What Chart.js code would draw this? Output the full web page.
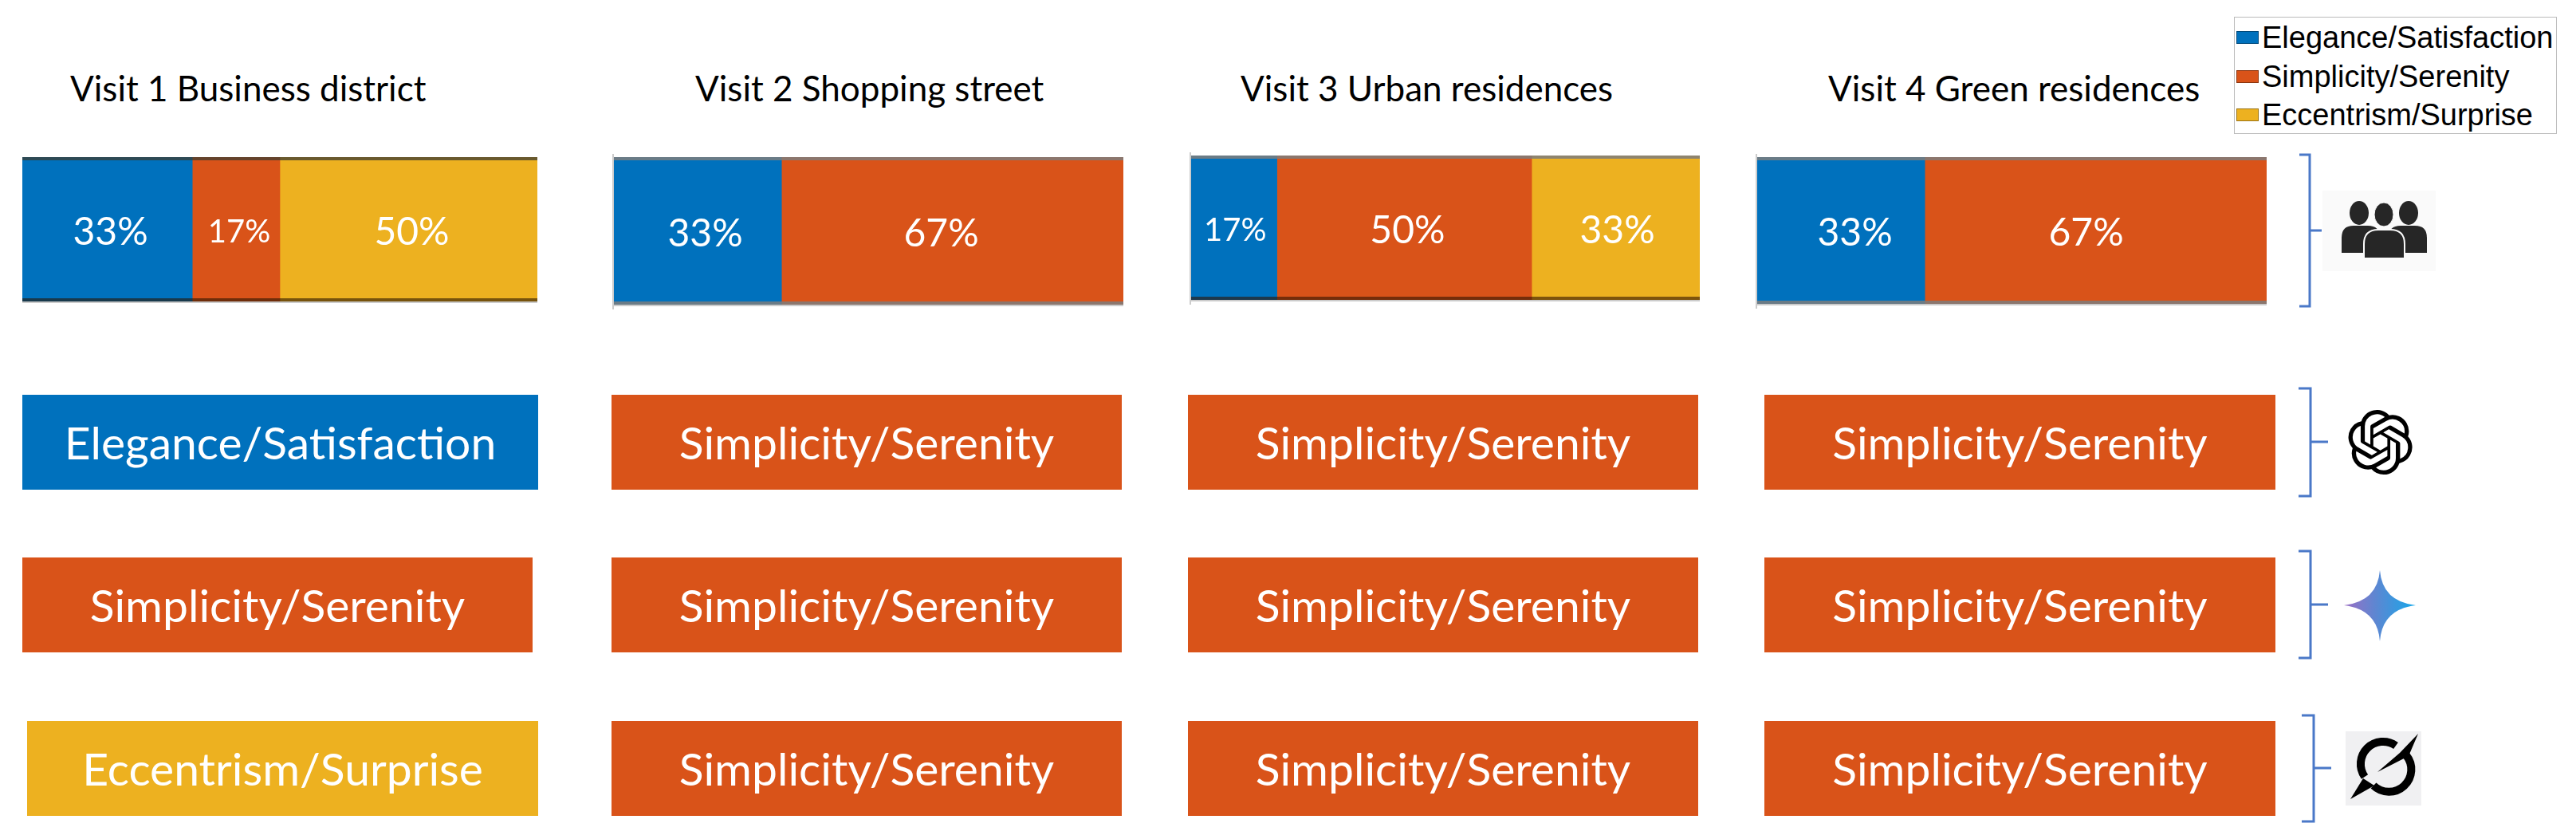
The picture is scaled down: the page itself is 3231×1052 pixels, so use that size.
<!DOCTYPE html>
<html>
<head>
<meta charset="utf-8">
<title>Visits</title>
<script src="https://cdn.jsdelivr.net/npm/chart.js@4/dist/chart.umd.min.js"></script>
<style>
  html, body { margin: 0; padding: 0; background: #fff; }
  #page { position: relative; width: 3231px; height: 1052px; overflow: hidden; }
  #page canvas { position: absolute; }
  .visitTitle { position: absolute; top: 80px; font: 44px Lato, sans-serif; color: #000; white-space: nowrap; line-height: 60px; }
  #legend { position: absolute; left: 2802px; top: 21px; width: 403px; height: 145px; border: 1.5px solid #bbb; background: #fff; }
  .legendRow { position: absolute; left: 2px; height: 48px; font: 38px "Liberation Sans", Arial, sans-serif; color: #000; line-height: 48px; white-space: nowrap; }
  .legendRow i { display: inline-block; width: 28px; height: 16px; margin-right: 4px; border: 1px solid rgba(0,0,0,.35); vertical-align: 5px; box-sizing: border-box; }
  #overlay { position: absolute; left: 0; top: 0; }
</style>
</head>
<body>
<div id="page">
  <div id="legend"></div>
  <svg id="overlay" width="3231" height="1052" viewBox="0 0 3231 1052">
    <defs>
      <linearGradient id="starFill" x1="0" y1="0" x2="1" y2="0">
        <stop offset="0" stop-color="#9b6fc4"/>
        <stop offset="0.45" stop-color="#5c87d2"/>
        <stop offset="1" stop-color="#16a8ea"/>
      </linearGradient>
    </defs>
    <!-- people icon -->
    <rect x="2913" y="239" width="142" height="101" fill="#fafafa"/>
    <g fill="#262626">
      <ellipse cx="2959" cy="267" rx="12" ry="15"/>
      <ellipse cx="3021" cy="267" rx="12" ry="15"/>
      <path d="M2937 317 V298 Q2937 283 2952 283 H2970 Q2985 283 2985 298 V317 Z"/>
      <path d="M2996 317 V298 Q2996 283 3011 283 H3029 Q3044 283 3044 298 V317 Z"/>
      <ellipse cx="2990" cy="269" rx="12" ry="15" stroke="#fafafa" stroke-width="1"/>
      <path d="M2965 324 V306 Q2965 288 2983 288 H2998 Q3016 288 3016 306 V324 Z" stroke="#fafafa" stroke-width="2"/>
    </g>
    <!-- openai knot -->
    <g transform="translate(2945 514) scale(3.38)">
      <path fill="#000" d="M22.2819 9.8211a5.9847 5.9847 0 0 0-.5157-4.9108 6.0462 6.0462 0 0 0-6.5098-2.9A6.0651 6.0651 0 0 0 4.9807 4.1818a5.9847 5.9847 0 0 0-3.9977 2.9 6.0462 6.0462 0 0 0 .7427 7.0966 5.98 5.98 0 0 0 .511 4.9107 6.051 6.051 0 0 0 6.5146 2.9001A5.9847 5.9847 0 0 0 13.2599 24a6.0557 6.0557 0 0 0 5.7718-4.2058 5.9894 5.9894 0 0 0 3.9977-2.9001 6.0557 6.0557 0 0 0-.7475-7.0729zm-9.022 12.6081a4.4755 4.4755 0 0 1-2.8764-1.0408l.1419-.0804 4.7783-2.7582a.7948.7948 0 0 0 .3927-.6813v-6.7369l2.02 1.1686a.071.071 0 0 1 .038.052v5.5826a4.504 4.504 0 0 1-4.4945 4.4944zm-9.6607-4.1254a4.4708 4.4708 0 0 1-.5346-3.0137l.142.0852 4.783 2.7582a.7712.7712 0 0 0 .7806 0l5.8428-3.3685v2.3324a.0804.0804 0 0 1-.0332.0615L9.74 19.9502a4.4992 4.4992 0 0 1-6.1408-1.6464zM2.3408 7.8956a4.485 4.485 0 0 1 2.3655-1.9728V11.6a.7664.7664 0 0 0 .3879.6765l5.8144 3.3543-2.0201 1.1685a.0757.0757 0 0 1-.071 0l-4.8303-2.7865A4.504 4.504 0 0 1 2.3408 7.872zm16.5963 3.8558L13.1038 8.364 15.1192 7.2a.0757.0757 0 0 1 .071 0l4.8303 2.7913a4.4944 4.4944 0 0 1-.6765 8.1042v-5.6772a.79.79 0 0 0-.407-.667zm2.0107-3.0231l-.142-.0852-4.7735-2.7818a.7759.7759 0 0 0-.7854 0L9.409 9.2297V6.8974a.0662.0662 0 0 1 .0284-.0615l4.8303-2.7866a4.4992 4.4992 0 0 1 6.6802 4.66zM8.3065 12.863l-2.02-1.1638a.0804.0804 0 0 1-.038-.0567V6.0742a4.4992 4.4992 0 0 1 7.3757-3.4537l-.142.0805L8.704 5.459a.7948.7948 0 0 0-.3927.6813zm1.0976-2.3654l2.602-1.4998 2.6069 1.4998v2.9994l-2.5974 1.4997-2.6067-1.4997Z"/>
    </g>
    <!-- gemini star -->
    <path fill="url(#starFill)" d="M2985 715 Q2988 754 3030 759 Q2988 764 2985 804 Q2982 764 2940 759 Q2982 754 2985 715 Z"/>
    <!-- grok mark -->
    <rect x="2942" y="917" width="95" height="93" fill="#f0f0f2"/>
    <path fill="none" stroke="#000" stroke-width="10" d="M3005 935 A28 28 0 0 0 2966 974"/>
    <path fill="none" stroke="#000" stroke-width="10" d="M2977 985 A28 28 0 0 0 3018 947"/>
    <path fill="#000" d="M3033 920 L3021 948 L2982 968 L3010 944 Z"/>
    <path fill="#000" d="M2948 1002 L2964 976 L2978 985 Z"/>
    <!-- brackets -->
    <g fill="none" stroke="#4a78c8" stroke-width="3">
      <path d="M2884 194 H2897 V384 H2884 M2897 289 H2912"/>
      <path d="M2883 487 H2898 V622 H2883 M2898 554 H2920"/>
      <path d="M2883 691 H2898 V825 H2883 M2898 758 H2920"/>
      <path d="M2887 897 H2902 V1030 H2887 M2902 963 H2924"/>
    </g>
  </svg>
</div>
<script>
// categories
const visits = ["Visit 1 Business district", "Visit 2 Shopping street", "Visit 3 Urban residences", "Visit 4 Green residences"];
const styleNames = ["Elegance/Satisfaction", "Simplicity/Serenity", "Eccentrism/Surprise"];
const styleColors = ["#0071BD", "#D95319", "#EDB120"];

// human answers, share of each style per visit (%)
const elegancePct = [33, 33, 17, 33];
const simplicityPct = [17, 67, 50, 67];
const eccentrismPct = [50, 0, 33, 0];

// what each model picked per visit (index into styleNames)
const chatgptPick = [0, 1, 1, 1];
const geminiPick = [1, 1, 1, 1];
const grokPick = [2, 1, 1, 1];

// layout, left/right/top/bottom of each bar in px
const humanBoxes = [[28, 674, 197, 378], [769, 1409, 197, 382], [1493, 2132, 195, 376], [2203, 2843, 197, 381]];
const rowTops = [[495, 614], [699, 818], [904, 1023]];
const modelCols = [
  [[28, 675], [767, 1407], [1490, 2130], [2213, 2854]],
  [[28, 668], [767, 1407], [1490, 2130], [2213, 2854]],
  [[34, 675], [767, 1407], [1490, 2130], [2213, 2854]]
];
const titleLefts = [88, 872, 1556, 2293];
// percent labels are not centred in the original, px offset per visit and segment
const labelNudges = [[4, 4, 4], [10, -14, 0], [2, 4, 2], [18, -12, 0]];

const PAD = 6; // room round the bar for the axis bits
const page = document.getElementById("page");

// text inside the bars
const barText = {
  id: "barText",
  afterDatasetsDraw(chart, args, opts) {
    const ctx = chart.ctx;
    chart.data.datasets.forEach((ds, i) => {
      const v = ds.data[0];
      if (!v) return;
      const bar = chart.getDatasetMeta(i).data[0];
      const mid = (bar.x + bar.base) / 2;
      ctx.save();
      ctx.fillStyle = "#fff";
      ctx.textAlign = "center";
      ctx.textBaseline = "middle";
      if (opts.word) {
        ctx.font = "57px Lato, sans-serif";
        ctx.fillText(opts.word, mid, bar.y + 3);
      } else {
        ctx.font = (v < 20 ? 40 : 48) + "px Lato, sans-serif";
        ctx.fillText(v + "%", mid + opts.nudges[i], bar.y + 4);
      }
      ctx.restore();
    });
  }
};

// the shaded rims on the human bars
const barRims = {
  id: "barRims",
  afterDatasetsDraw(chart, args, opts) {
    if (!opts.top) return;
    const ctx = chart.ctx;
    const a = chart.chartArea;
    ctx.save();
    ctx.fillStyle = opts.top;
    ctx.fillRect(a.left, a.top, a.right - a.left, 4);
    ctx.fillStyle = opts.bottom;
    ctx.fillRect(a.left, a.bottom - 4, a.right - a.left, 4);
    ctx.fillStyle = "#ccc";
    ctx.fillRect(a.left, a.bottom, a.right - a.left, 2);
    if (opts.axis) {
      ctx.fillRect(a.left - 1, a.top - 4, 2, a.bottom - a.top + 10);
    }
    ctx.restore();
  }
};

function addBar(box, datasets, word, rims, nudges) {
  const canvas = document.createElement("canvas");
  const w = box[1] - box[0] + PAD * 2;
  const h = box[3] - box[2] + PAD * 2;
  canvas.width = w;
  canvas.height = h;
  canvas.style.left = (box[0] - PAD) + "px";
  canvas.style.top = (box[2] - PAD) + "px";
  canvas.style.width = w + "px";
  canvas.style.height = h + "px";
  page.appendChild(canvas);
  new Chart(canvas, {
    type: "bar",
    data: { labels: [""], datasets: datasets },
    options: {
      indexAxis: "y",
      responsive: false,
      animation: false,
      layout: { padding: PAD },
      scales: {
        x: { stacked: true, min: 0, max: 100, display: false },
        y: { stacked: true, display: false }
      },
      plugins: {
        legend: { display: false },
        tooltip: { enabled: false },
        barText: { word: word, nudges: nudges },
        barRims: rims || {}
      }
    },
    plugins: [barText, barRims]
  });
}

const rimStyles = [
  { top: "rgba(60,60,50,.75)", bottom: "rgba(40,20,0,.6)", axis: false },
  { top: "rgba(125,125,125,.85)", bottom: "rgba(125,125,125,.85)", axis: true },
  { top: "rgba(125,125,125,.85)", bottom: "rgba(50,20,0,.6)", axis: true },
  { top: "rgba(125,125,125,.85)", bottom: "rgba(125,125,125,.85)", axis: true }
];

// top row, stacked shares
visits.forEach((name, i) => {
  const shares = [elegancePct[i], simplicityPct[i], eccentrismPct[i]];
  const ds = shares.map((v, s) => ({
    label: styleNames[s],
    data: [v],
    backgroundColor: styleColors[s],
    barPercentage: 1,
    categoryPercentage: 1
  }));
  addBar(humanBoxes[i], ds, null, rimStyles[i], labelNudges[i]);

  const t = document.createElement("div");
  t.className = "visitTitle";
  t.style.left = titleLefts[i] + "px";
  t.textContent = name;
  page.appendChild(t);
});

// model rows, one full bar with the picked style
[chatgptPick, geminiPick, grokPick].forEach((picks, r) => {
  picks.forEach((p, i) => {
    const box = [modelCols[r][i][0], modelCols[r][i][1], rowTops[r][0], rowTops[r][1]];
    addBar(box, [{
      label: styleNames[p],
      data: [100],
      backgroundColor: styleColors[p],
      barPercentage: 1,
      categoryPercentage: 1
    }], styleNames[p]);
  });
});

// legend
const legend = document.getElementById("legend");
styleNames.forEach((name, i) => {
  const row = document.createElement("div");
  row.className = "legendRow";
  row.style.top = (1 + i * 48.5) + "px";
  row.innerHTML = `<i style="background:${styleColors[i]}"></i>${name}`;
  legend.appendChild(row);
});
</script>
</body>
</html>
